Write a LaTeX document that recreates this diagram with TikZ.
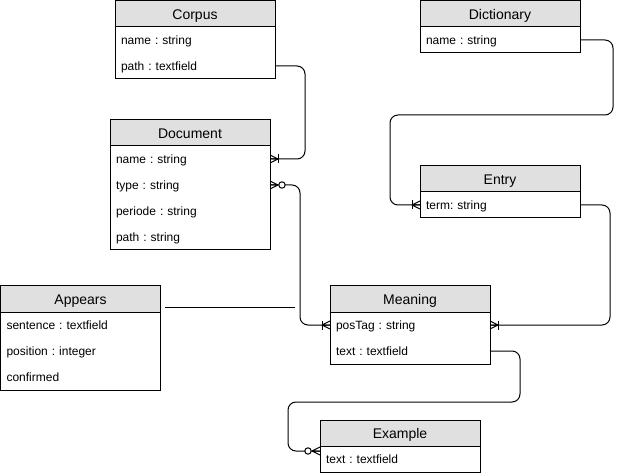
\documentclass[tikz,border=0pt]{standalone}
\usepackage{fontspec}
\setmainfont{Liberation Sans}
\usepackage{xcolor}
\definecolor{headgrey}{RGB}{224,224,224}
\usepackage{tikz}
\usetikzlibrary{positioning}
\usetikzlibrary{decorations.markings}
\frenchspacing
\newcommand{\widthtable}{160pt}
\newcommand{\heightrow}{26pt}
\tikzset{
    common/.style={anchor=north west, rectangle, minimum width=\widthtable, minimum height=\heightrow, inner sep=0pt, outer sep=0pt},
    header/.style={common, draw, fill=headgrey, font=\fontsize{14}{16}\selectfont, text height=10.2pt, text depth=0pt},
    attr/.style={common, anchor=north, text width=148pt, align=left, font=\fontsize{12}{14}\selectfont, text height=9pt, text depth=0.3pt},
    rel/.style={rounded corners=8pt},
    % crow's feet at the end of a path
    one-many/.style={rel, postaction={decorate, decoration={markings, mark=at position 1 with {
        \draw[sharp corners] (-8pt,0pt) -- (0pt,4pt) (-8pt,0pt) -- (0pt,-4pt) (-8pt,0pt) -- (0pt,0pt);
        \draw[sharp corners] (-8pt,-4.5pt) -- (-8pt,4.5pt);
    }}}},
    zero-many/.style={rel, postaction={decorate, decoration={markings, mark=at position 1 with {
        \draw[sharp corners] (-8pt,0pt) -- (0pt,4pt) (-8pt,0pt) -- (0pt,-4pt) (-8pt,0pt) -- (0pt,0pt);
        \draw[fill=white] (-12pt,0pt) circle (3.2pt);
    }}}},
    % and at its start
    zero-many-start/.style={rel, postaction={decorate, decoration={markings, mark=at position 0 with {
        \draw[sharp corners] (8pt,0pt) -- (0pt,4pt) (8pt,0pt) -- (0pt,-4pt) (8pt,0pt) -- (0pt,0pt);
        \draw[fill=white] (12pt,0pt) circle (3.2pt);
    }}}}
}
\begin{document}
\begin{tikzpicture}[x=1pt, y=-1pt, line width=1pt]
    \useasboundingbox (0,0) rectangle (622,476);

    % tables
    \node[header] (corpus) at (115,1) {Corpus};
    \node[attr, below=0pt of corpus] (corpus-name) {name : string};
    \node[attr, below=0pt of corpus-name] (corpus-path) {path : textfield};
    \draw (corpus.south west) rectangle (corpus-path.south east);

    \node[header] (dict) at (420,1) {Dictionary};
    \node[attr, below=0pt of dict] (dict-name) {name : string};
    \draw (dict.south west) rectangle (dict-name.south east);

    \node[header] (doc) at (110,120) {Document};
    \node[attr, below=0pt of doc] (doc-name) {name : string};
    \node[attr, below=0pt of doc-name] (doc-type) {type : string};
    \node[attr, below=0pt of doc-type] (doc-periode) {periode : string};
    \node[attr, below=0pt of doc-periode] (doc-path) {path : string};
    \draw (doc.south west) rectangle (doc-path.south east);

    \node[header] (entry) at (420,166) {Entry};
    \node[attr, below=0pt of entry] (entry-term) {term: string};
    \draw (entry.south west) rectangle (entry-term.south east);

    \node[header] (appears) at (0.5,286) {Appears};
    \node[attr, below=0pt of appears] (appears-sentence) {sentence : textfield};
    \node[attr, below=0pt of appears-sentence] (appears-position) {position : integer};
    \node[attr, below=0pt of appears-position] (appears-confirmed) {confirmed};
    \draw (appears.south west) rectangle (appears-confirmed.south east);

    \node[header] (meaning) at (330,286) {Meaning};
    \node[attr, below=0pt of meaning] (meaning-postag) {posTag : string};
    \node[attr, below=0pt of meaning-postag] (meaning-text) {text : textfield};
    \draw (meaning.south west) rectangle (meaning-text.south east);

    \node[header] (example) at (320,420) {Example};
    \node[attr, below=0pt of example] (example-text) {text : textfield};
    \draw (example.south west) rectangle (example-text.south east);

    % relations
    \draw[one-many] (corpus-path.east) -- ++(30,0) |- (doc-name.east);
    \draw[one-many, zero-many-start] (doc-type.east) -- ++(30,0) |- (meaning-postag.west);
    \draw[one-many] (dict-name.east) -- ++(33,0) -- ++(0,75) -- ++(-223,0) |- (entry-term.west);
    \draw[one-many] (entry-term.east) -- ++(30,0) |- (meaning-postag.east);
    \draw[zero-many] (meaning-text.east) -- ++(30,0) -- ++(0,51) -- ++(-232,0) |- ([yshift=8pt]example-text.west);

    \coordinate (assoc-start) at (165,307);
    \coordinate (assoc-end) at (295,307);
    \draw (assoc-start) -- (assoc-end);
\end{tikzpicture}
\end{document}
